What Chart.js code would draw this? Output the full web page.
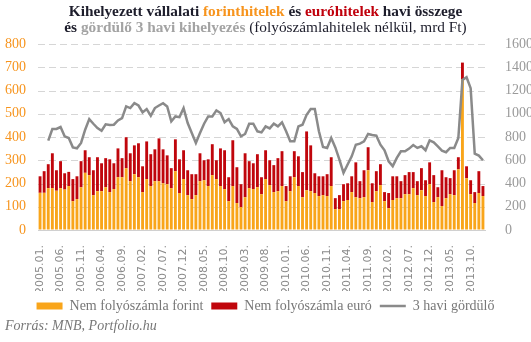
<!DOCTYPE html>
<html>
<head>
<meta charset="utf-8">
<script src="https://cdn.jsdelivr.net/npm/chart.js@4.4.1/dist/chart.umd.min.js"></script>
<style>
  body { margin: 0; background: #fff; }
  #wrap { position: relative; width: 531px; height: 342px; }
  #title { position: absolute; top: 3px; left: 0; width: 531px; text-align: center;
           font-family: "Liberation Serif", serif; font-size: 15.3px; line-height: 16px; color: #1d1d2b; }
  #title b { font-weight: bold; }
  .orange { color: #f7941d; }
  .red { color: #c0000c; }
  .grey { color: #a3a3a3; }
  #source { position: absolute; left: 5px; top: 318px; font-family: "Liberation Serif", serif;
            font-style: italic; font-size: 14px; color: #777; }
</style>
</head>
<body>
<div id="wrap">
  <canvas id="chart" width="531" height="342"></canvas>
  <div id="title">
    <b>Kihelyezett vállalati <span class="orange">forinthitelek</span> és <span class="red">euróhitelek</span> havi összege</b><br>
    <b>és <span class="grey">gördülő 3 havi kihelyezés</span></b> (folyószámlahitelek nélkül, mrd Ft)
  </div>
  <div id="source">Forrás: MNB, Portfolio.hu</div>
</div>
<script>
// months 2005.01 .. 2014.01
const months = [];
for (let y = 2005; y <= 2014; y++) {
  for (let m = 1; m <= 12; m++) {
    if (y === 2014 && m > 1) break;
    months.push(y + "." + String(m).padStart(2, "0") + ".");
  }
}

// Nem folyószámla forint (mrd Ft)
const forint = [
  160, 160, 180, 180, 169, 180, 174, 189, 124, 133, 184, 246,
  236, 150, 167, 167, 184, 163, 176, 227, 227, 266, 210, 240,
  227, 163, 219, 189, 210, 210, 201, 197, 180, 253, 159, 219,
  150, 133, 150, 210, 214, 189, 236, 219, 189, 176, 124, 189,
  116, 99, 141, 180, 176, 184, 154, 219, 193, 163, 167, 189,
  124, 167, 227, 189, 141, 171, 167, 159, 146, 150, 146, 189,
  90, 90, 124, 129, 163, 141, 137, 141, 257, 120, 167, 193,
  124, 94, 129, 137, 137, 154, 154, 180, 150, 171, 146, 197,
  120, 141, 103, 137, 154, 150, 261, 649, 223, 154, 116, 159,
  146
];

// Nem folyószámla euró (mrd Ft)
const euro = [
  71, 93, 103, 150, 88, 116, 70, 61, 95, 98, 112, 97,
  77, 107, 146, 120, 125, 141, 111, 124, 82, 133, 120, 124,
  146, 111, 162, 137, 137, 184, 146, 124, 86, 137, 145, 124,
  107, 107, 90, 120, 86, 115, 133, 81, 162, 167, 103, 197,
  154, 98, 189, 116, 111, 142, 73, 124, 107, 116, 142, 150,
  65, 64, 112, 128, 108, 253, 197, 85, 85, 81, 94, 124,
  47, 60, 73, 72, 68, 150, 73, 116, 99, 81, 86, 90,
  39, 65, 102, 94, 73, 82, 95, 69, 60, 95, 68, 94,
  116, 43, 154, 90, 69, 107, 52, 71, 51, 60, 47, 94,
  43
];

// 3 havi gördülő (jobb tengely)
const rolling = [
  null, null, 769, 869, 869, 886, 806, 791, 711, 703, 749, 863,
  954, 914, 877, 854, 909, 903, 906, 943, 963, 1063, 1049, 1091,
  1071, 1011, 1040, 983, 1049, 1071, 1091, 1063, 934, 977, 971, 1049,
  920, 834, 749, 834, 914, 977, 977, 1029, 1006, 926, 954, 891,
  869, 806, 826, 914, 914, 849, 840, 891, 874, 914, 891, 926,
  849, 763, 763, 891, 906, 991, 1040, 1040, 849, 714, 706, 791,
  710, 606, 491, 563, 634, 734, 743, 763, 826, 817, 811, 734,
  686, 591, 549, 620, 677, 677, 700, 731, 706, 720, 686, 771,
  754, 720, 683, 669, 706, 706, 791, 1291, 1314, 1220, 657, 640,
  600
];

const leftTicks = [0, 100, 200, 300, 400, 500, 600, 700, 800];
const rightTicks = [0, 200, 400, 600, 800, 1000, 1200, 1400, 1600];

const serif = "'Liberation Serif', serif";

// dashed horizontal gridlines taken from the left scale
const dashedGrid = {
  id: "dashedGrid",
  beforeDatasetsDraw(chart) {
    const { ctx, chartArea, scales } = chart;
    ctx.save();
    ctx.strokeStyle = "#d6d6d6";
    ctx.lineWidth = 1;
    ctx.setLineDash([7, 4]);
    leftTicks.forEach(v => {
      if (v === 0) return;
      const y = Math.round(scales.y.getPixelForValue(v)) + 0.5;
      ctx.beginPath();
      ctx.moveTo(chartArea.left, y);
      ctx.lineTo(chartArea.right, y);
      ctx.stroke();
    });
    ctx.restore();
  }
};

new Chart(document.getElementById("chart"), {
  type: "bar",
  data: {
    labels: months,
    datasets: [
      {
        label: "Nem folyószámla forint",
        data: forint,
        backgroundColor: "#f9a51a",
        borderWidth: 0,
        stack: "s",
        yAxisID: "y",
        order: 1,
        barPercentage: 0.7,
        categoryPercentage: 1
      },
      {
        label: "Nem folyószámla euró",
        data: euro,
        backgroundColor: "#c0060c",
        borderWidth: 0,
        stack: "s",
        yAxisID: "y",
        order: 1,
        barPercentage: 0.7,
        categoryPercentage: 1
      },
      {
        type: "line",
        label: "3 havi gördülő",
        data: rolling,
        borderColor: "#8a8a8a",
        backgroundColor: "#8a8a8a",
        borderWidth: 2.5,
        pointRadius: 0,
        tension: 0,
        yAxisID: "y1",
        order: 0
      }
    ]
  },
  options: {
    responsive: false,
    animation: false,
    layout: { padding: { top: 44, left: 0, right: 0, bottom: 19 } },
    plugins: {
      tooltip: { enabled: false },
      legend: {
        position: "bottom",
        labels: {
          usePointStyle: true,
          pointStyleWidth: 26,
          boxWidth: 26,
          boxHeight: 7,
          padding: 8,
          color: "#777",
          font: { family: serif, size: 14 },
          sort: (a, b) => a.datasetIndex - b.datasetIndex,
          generateLabels: (chart) => {
            const items = Chart.defaults.plugins.legend.labels.generateLabels(chart);
            items.forEach(it => {
              it.pointStyle = it.datasetIndex < 2 ? "rect" : "line";
              if (it.datasetIndex === 2) it.lineWidth = 2.5;
            });
            return items;
          }
        }
      }
    },
    scales: {
      x: {
        stacked: true,
        afterFit: (s) => { s.height = 61; },
        grid: { display: false },
        border: { color: "#d0d0d0", width: 1 },
        ticks: {
          autoSkip: false,
          minRotation: 90,
          maxRotation: 90,
          color: "#8a8a8a",
          font: { family: "'DejaVu Sans', sans-serif", size: 11 },
          padding: 7,
          callback: (v, i) => (i % 5 === 0 ? months[i] : "")
        }
      },
      y: {
        stacked: true,
        min: 0,
        max: 800,
        afterBuildTicks: (s) => { s.ticks = leftTicks.map(v => ({ value: v })); },
        afterFit: (s) => { s.width = 38; },
        grid: { color: "rgba(0,0,0,0)", drawTicks: false },
        border: { display: false },
        ticks: {
          color: "#f7941d",
          font: { family: serif, size: 14 },
          padding: 12,
          callback: (v) => String(v)
        }
      },
      y1: {
        position: "right",
        min: 0,
        max: 1600,
        afterBuildTicks: (s) => { s.ticks = rightTicks.map(v => ({ value: v })); },
        afterFit: (s) => { s.width = 46; },
        grid: { display: false },
        border: { display: false },
        ticks: {
          color: "#9a9a9a",
          font: { family: serif, size: 14 },
          padding: 12,
          callback: (v) => String(v)
        }
      }
    }
  },
  plugins: [dashedGrid]
});
</script>
</body>
</html>
